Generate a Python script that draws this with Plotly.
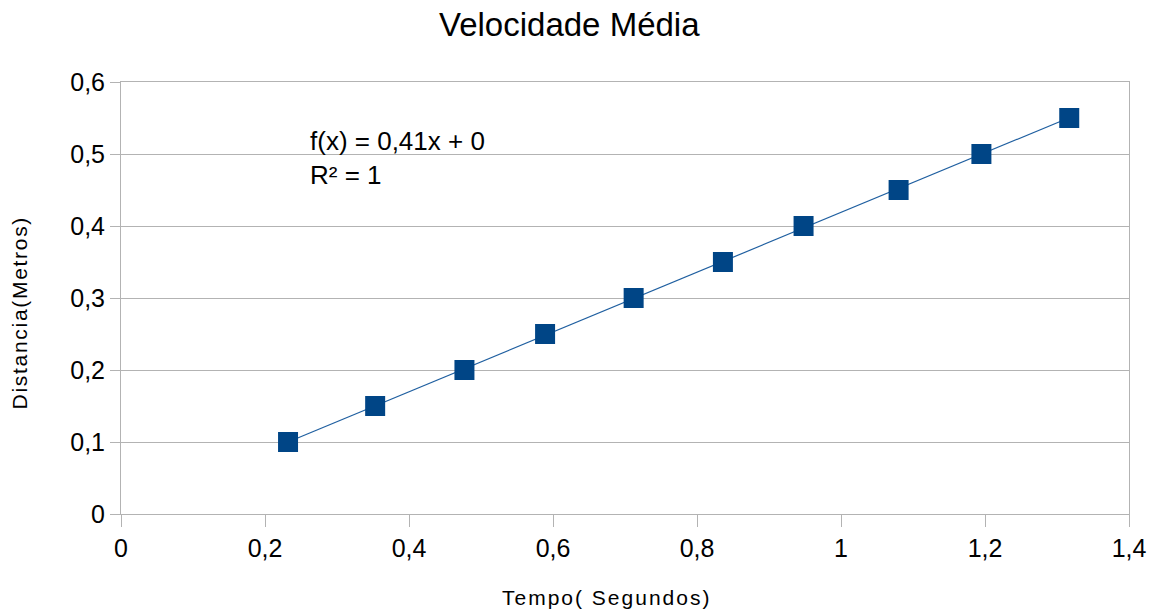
import numpy as np
import plotly.graph_objects as go

tempo = [0.232, 0.353, 0.477, 0.589, 0.712, 0.836, 0.948, 1.080, 1.195, 1.317]
distancia = [0.10, 0.15, 0.20, 0.25, 0.30, 0.35, 0.40, 0.45, 0.50, 0.55]

title = "Velocidade Média"
x_title = "Tempo( Segundos)"
y_title = "Distancia(Metros)"
eq_text = "f(x) = 0,41x + 0<br>R² = 1"

slope, intercept = np.polyfit(tempo, distancia, 1)
x_fit = [min(tempo), max(tempo)]
y_fit = [slope * v + intercept for v in x_fit]

color = "#004586"
grid = "#b3b3b3"
font = "Liberation Sans, Arial, sans-serif"

fig = go.Figure()
fig.add_trace(go.Scatter(x=x_fit, y=y_fit, mode="lines",
                         line=dict(color="#1f5fa0", width=1.2),
                         hoverinfo="skip", showlegend=False))
fig.add_trace(go.Scatter(x=tempo, y=distancia, mode="markers",
                         marker=dict(symbol="square", size=20, color=color,
                                     line=dict(width=0)),
                         showlegend=False))

# equation / R² label
fig.add_annotation(x=0.26, y=0.494, xref="x", yref="y", text=eq_text,
                   showarrow=False, xanchor="left", yanchor="middle", align="left",
                   font=dict(family=font, size=26, color="#000000"))

# chart title
fig.add_annotation(x=0.4447, y=1.132, xref="paper", yref="paper", text=title,
                   showarrow=False, xanchor="center", yanchor="middle",
                   font=dict(family=font, size=33, color="#000000"))

# axis titles
fig.add_annotation(x=0.482, y=-0.194, xref="paper", yref="paper",
                   text='<span style="letter-spacing:2px">' + x_title + '</span>',
                   showarrow=False, xanchor="center", yanchor="middle",
                   font=dict(family=font, size=21, color="#000000"))
fig.add_annotation(x=-0.0998, y=0.4653, xref="paper", yref="paper",
                   text='<span style="letter-spacing:1.7px">' + y_title + '</span>',
                   showarrow=False, xanchor="center", yanchor="middle", textangle=-90,
                   font=dict(family=font, size=21, color="#000000"))

fig.update_layout(
    width=1158, height=611,
    margin=dict(l=121, r=25, t=82, b=97),
    paper_bgcolor="white", plot_bgcolor="white",
    separators=",.",
    font=dict(family=font, color="#000000"),
    xaxis=dict(range=[0, 1.4], dtick=0.2, tick0=0, showgrid=False,
               ticks="outside", ticklen=12, tickcolor=grid, tickwidth=1,
               showline=True, linecolor=grid, linewidth=1, mirror=True,
               zeroline=False,
               tickfont=dict(family=font, size=25, color="#000000")),
    yaxis=dict(range=[0, 0.6], dtick=0.1, tick0=0, showgrid=True, gridcolor=grid,
               gridwidth=1, ticks="outside", ticklen=10, tickcolor=grid,
               showline=True, linecolor=grid, linewidth=1, mirror=True,
               zeroline=False,
               tickfont=dict(family=font, size=25, color="#000000")),
)

fig.write_html("out.html", config={"displayModeBar": False},
               post_script="document.body.style.margin='0px';document.body.style.overflow='hidden';")
